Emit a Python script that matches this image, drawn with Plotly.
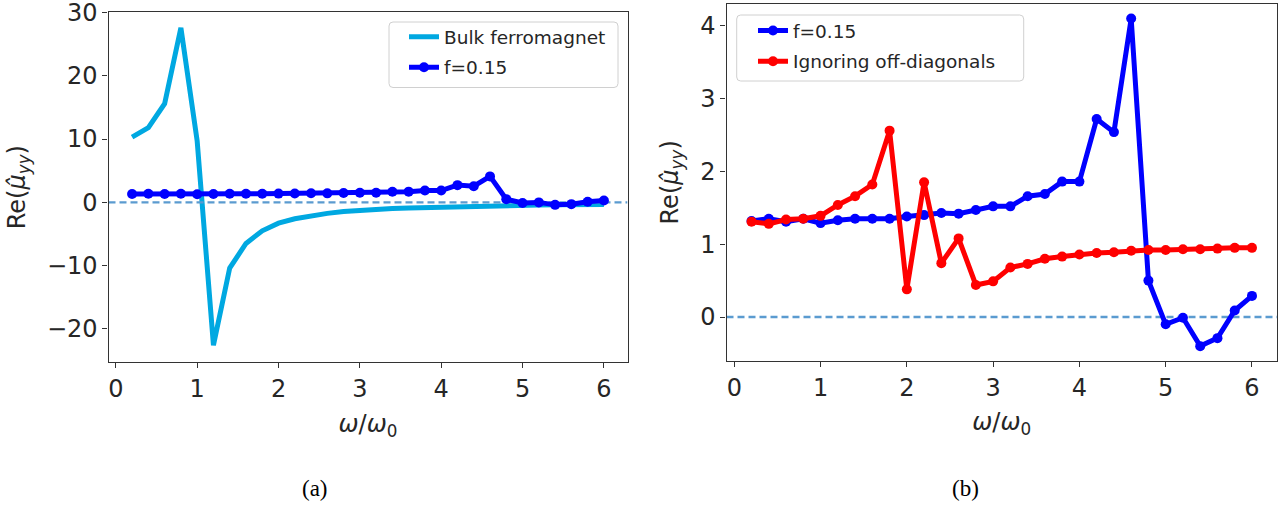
import plotly.graph_objects as go

W, H = 1278, 506

# ---------------- data ----------------
omega = [0.2, 0.4, 0.6, 0.8, 1.0, 1.2, 1.4, 1.6, 1.8, 2.0,
         2.2, 2.4, 2.6, 2.8, 3.0, 3.2, 3.4, 3.6, 3.8, 4.0,
         4.2, 4.4, 4.6, 4.8, 5.0, 5.2, 5.4, 5.6, 5.8, 6.0]

bulk_ferromagnet = [10.3, 11.8, 15.6, 27.6, 9.7, -22.6, -10.4, -6.5, -4.5, -3.3,
                    -2.6, -2.1, -1.75, -1.45, -1.25, -1.1, -0.98, -0.88, -0.8, -0.72,
                    -0.66, -0.6, -0.55, -0.5, -0.46, -0.43, -0.4, -0.37, -0.35, -0.33]

f015 = [1.32, 1.35, 1.31, 1.35, 1.29, 1.33, 1.35, 1.35, 1.35, 1.38,
        1.40, 1.43, 1.42, 1.47, 1.52, 1.52, 1.66, 1.69, 1.86, 1.86,
        2.72, 2.54, 4.10, 0.50, -0.10, -0.01, -0.40, -0.29, 0.09, 0.29]

ignoring_offdiag = [1.31, 1.28, 1.34, 1.35, 1.39, 1.54, 1.66, 1.82, 2.56, 0.38,
                    1.85, 0.74, 1.08, 0.44, 0.49, 0.68, 0.73, 0.80, 0.83, 0.86,
                    0.88, 0.89, 0.91, 0.92, 0.92, 0.93, 0.93, 0.94, 0.95, 0.95]

x_range = [-0.09, 6.29]
y_range_a = [-25.3, 30.1]
y_range_b = [-0.60, 4.30]
x_ticks = [0, 1, 2, 3, 4, 5, 6]
y_ticks_a = [-20, -10, 0, 10, 20, 30]
y_ticks_b = [0, 1, 2, 3, 4]

# ---------------- style ----------------
C_BULK = "#00a8e1"
C_BLUE = "#0000ff"
C_RED = "#ff0000"
C_ZERO = "#5b9bd0"
FONT = "DejaVu Sans"
TICK_SIZE = 24
TITLE_SIZE = 24
LEG_SIZE = 18.5


def px_x(p):
    return p / W


def px_y(p):
    return 1 - p / H


fig = go.Figure()

# left panel
fig.add_trace(go.Scatter(x=omega, y=bulk_ferromagnet, mode="lines", name="Bulk ferromagnet",
                         line=dict(color=C_BULK, width=5), xaxis="x", yaxis="y",
                         legend="legend"))
fig.add_trace(go.Scatter(x=x_range, y=[0, 0], mode="lines", showlegend=False,
                         line=dict(color=C_ZERO, width=2.4, dash="7px,4px"),
                         xaxis="x", yaxis="y"))
fig.add_trace(go.Scatter(x=omega, y=f015, mode="lines+markers", name="f=0.15",
                         line=dict(color=C_BLUE, width=5), marker=dict(size=10, color=C_BLUE),
                         xaxis="x", yaxis="y", legend="legend2"))

# right panel
fig.add_trace(go.Scatter(x=x_range, y=[0, 0], mode="lines", showlegend=False,
                         line=dict(color=C_ZERO, width=2.4, dash="7px,4px"),
                         xaxis="x2", yaxis="y2"))
fig.add_trace(go.Scatter(x=omega, y=f015, mode="lines+markers", name="f=0.15",
                         line=dict(color=C_BLUE, width=5), marker=dict(size=10, color=C_BLUE),
                         xaxis="x2", yaxis="y2", legend="legend3"))
fig.add_trace(go.Scatter(x=omega, y=ignoring_offdiag, mode="lines+markers",
                         name="Ignoring off-diagonals",
                         line=dict(color=C_RED, width=5), marker=dict(size=10, color=C_RED),
                         xaxis="x2", yaxis="y2", legend="legend4"))

axis_common = dict(showline=True, mirror=True, linecolor="#333333", linewidth=1.2,
                   ticks="outside", ticklen=5, tickwidth=1, tickcolor="#333333",
                   showgrid=False, zeroline=False, ticklabeloverflow="allow",
                   tickfont=dict(family=FONT, size=TICK_SIZE, color="#262626"),
                   automargin=False)

xtitle = dict(text="<i>ω</i>/<i>ω</i><sub>0</sub>", font=dict(family=FONT, size=TITLE_SIZE, color="#262626"),
              standoff=12)
ytitle = dict(text="Re(<i>μ̂</i><sub><i>yy</i></sub>)", font=dict(family=FONT, size=TITLE_SIZE, color="#262626"),
              standoff=14)

fig.update_layout(
    width=W, height=H,
    margin=dict(l=0, r=0, t=0, b=0),
    paper_bgcolor="white", plot_bgcolor="white",
    xaxis=dict(domain=[px_x(108.5), px_x(627.5)], range=x_range, tickvals=x_ticks,
               anchor="y", title=xtitle, **axis_common),
    yaxis=dict(domain=[px_y(362.3), px_y(12)], range=y_range_a, tickvals=y_ticks_a,
               anchor="x", title=ytitle, **axis_common),
    xaxis2=dict(domain=[px_x(726.5), px_x(1277)], range=x_range, tickvals=x_ticks,
                anchor="y2", title=xtitle, **axis_common),
    yaxis2=dict(domain=[px_y(360.7), px_y(4)], range=y_range_b, tickvals=y_ticks_b,
                anchor="x2", title=ytitle, **axis_common),
)

leg_common = dict(bgcolor="rgba(0,0,0,0)", borderwidth=0, xanchor="left", yanchor="middle",
                  font=dict(family=FONT, size=LEG_SIZE, color="#262626"))
fig.update_layout(
    legend=dict(x=px_x(404), y=px_y(37.3), **leg_common),
    legend2=dict(x=px_x(404), y=px_y(67.7), **leg_common),
    legend3=dict(x=px_x(753), y=px_y(31), **leg_common),
    legend4=dict(x=px_x(753), y=px_y(61.7), **leg_common),
)


def rounded_box(x0, y0, x1, y1, r=4):
    X = lambda p: px_x(p)
    Y = lambda p: px_y(p)
    return (f"M{X(x0 + r)},{Y(y0)} L{X(x1 - r)},{Y(y0)} Q{X(x1)},{Y(y0)} {X(x1)},{Y(y0 + r)} "
            f"L{X(x1)},{Y(y1 - r)} Q{X(x1)},{Y(y1)} {X(x1 - r)},{Y(y1)} "
            f"L{X(x0 + r)},{Y(y1)} Q{X(x0)},{Y(y1)} {X(x0)},{Y(y1 - r)} "
            f"L{X(x0)},{Y(y0 + r)} Q{X(x0)},{Y(y0)} {X(x0 + r)},{Y(y0)} Z")


for box in [(389, 22, 618, 87.5), (736.7, 15, 1023.7, 81)]:
    fig.add_shape(type="path", path=rounded_box(*box), xref="paper", yref="paper",
                  line=dict(color="#d0d0d0", width=1), fillcolor="rgba(255,255,255,0.85)",
                  layer="above")

for label, cx in [("(a)", 315), ("(b)", 965)]:
    fig.add_annotation(text=label, x=px_x(cx), y=px_y(488), xref="paper", yref="paper",
                       showarrow=False, xanchor="center", yanchor="middle",
                       font=dict(family="Liberation Serif", size=23, color="black"))

fig.write_html("out.html")
